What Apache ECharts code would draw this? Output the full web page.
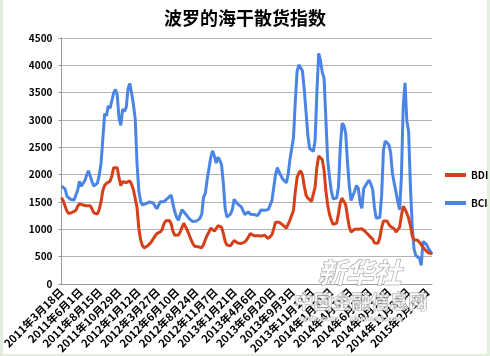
<!DOCTYPE html>
<html><head><meta charset="utf-8">
<script src="https://cdn.jsdelivr.net/npm/echarts@6/dist/echarts.min.js"></script>
<style>
html,body{margin:0;padding:0;background:#e1f0dd;}
#bg{position:absolute;left:3px;top:0;width:484px;height:354px;background:#fff;}
#chart{position:absolute;left:0;top:0;width:490px;height:356px;}
</style></head><body>
<div id="bg"></div><div id="chart"></div>
<script>
// weekly samples starting 2011-03-18
const stepDays = 7;
const tickStep = 75;
const tickLabels = ['2011年3月18日','2011年6月1日','2011年8月15日','2011年10月29日','2012年1月12日','2012年3月27日','2012年6月10日','2012年8月24日','2012年11月7日','2013年1月21日','2013年4月6日','2013年6月20日','2013年9月3日','2013年11月17日','2014年1月31日','2014年4月16日','2014年6月30日','2014年9月13日','2014年11月27日','2015年2月10日'];
const yTicks = [0,500,1000,1500,2000,2500,3000,3500,4000,4500];
const bdi = [1580,1515,1425,1335,1285,1265,1310,1310,1345,1420,
1465,1460,1445,1430,1430,1430,1430,1370,1300,1280,
1280,1365,1505,1710,1800,1840,1850,1880,1970,2125,
2160,2125,1940,1800,1870,1835,1855,1870,1885,1820,
1725,1700,1400,1020,810,700,660,690,700,725,
770,825,875,920,930,955,1000,1100,1155,1160,
1160,1100,960,890,865,895,950,1035,1110,1110,
980,895,815,740,690,690,680,665,660,720,
810,890,950,1020,1015,965,985,1065,1095,1040,
920,780,710,690,700,735,795,800,750,740,
740,750,770,810,860,925,900,880,873,880,
880,875,877,890,860,830,830,900,1005,1130,
1165,1130,1100,1080,1055,1020,1030,1165,1175,1350,
1685,1950,2030,2070,1990,1790,1620,1570,1560,1510,
1520,1770,2135,2340,2305,2275,2075,1705,1445,1275,
1170,1090,1080,1115,1285,1490,1570,1580,1450,1240,
1040,950,945,1000,1020,1000,1000,1010,980,955,
925,885,855,820,750,745,745,850,1030,1150,
1165,1150,1090,1050,1040,1010,950,950,1040,1250,
1420,1370,1295,1200,1065,880,810,800,800,760,
720,670,630,600,570,545,555];
const bci = [1790,1790,1740,1605,1575,1550,1550,1535,1540,1715,
1880,1790,1790,1890,1990,2070,2040,1870,1790,1790,
1845,1990,2210,2650,3115,3075,3260,3210,3230,3490,
3560,3455,3030,2900,3200,3155,3230,3570,3670,3490,
3285,3020,2210,1700,1510,1445,1450,1470,1485,1500,
1515,1480,1425,1375,1440,1505,1540,1505,1535,1565,
1590,1625,1460,1320,1220,1165,1185,1360,1370,1280,
1240,1195,1170,1140,1110,1150,1175,1200,1280,1590,
1660,1910,1940,2315,2435,2340,2210,2320,2265,2180,
1840,1380,1220,1245,1280,1360,1550,1500,1460,1450,
1410,1335,1270,1280,1320,1275,1275,1270,1235,1250,
1300,1355,1380,1350,1350,1360,1350,1525,1760,1995,
2130,2045,2070,1920,1895,1850,2000,2270,2255,2680,
3340,3890,4010,3990,3895,3550,3135,2710,2475,2465,
2425,2620,3500,4220,4090,3870,3760,3010,2270,1960,
1710,1560,1540,1570,1780,2490,2940,2900,2760,2240,
1800,1525,1550,1700,1800,1755,1495,1385,1740,1800,
1790,1900,1830,1730,1400,1200,1180,1220,1620,2440,
2615,2620,2550,2400,2020,1845,1680,1500,1360,1970,
3260,3680,2990,2780,1790,1050,640,520,510,470,
340,780,810,720,650,600,540];

const FONT = "'Noto Sans CJK SC', 'Liberation Sans', sans-serif";
const chart = echarts.init(document.getElementById('chart'), null, {renderer: 'canvas'});
const toPts = arr => arr.map((v, i) => [i * stepDays, v]);
chart.setOption({
  backgroundColor: 'transparent',
  animation: false,
  title: {
    text: '波罗的海干散货指数', left: 'center', top: 4,
    textStyle: {fontFamily: FONT, fontSize: 18, fontWeight: 'bold', color: '#000'}
  },
  legend: {
    orient: 'vertical', left: 445, top: 169, itemGap: 16, padding: 0,
    icon: 'rect', itemWidth: 21, itemHeight: 4,
    data: ['BDI', 'BCI'],
    textStyle: {fontFamily: FONT, fontSize: 10, fontWeight: 'bold', color: '#000', lineHeight: 12}
  },
  grid: {left: 53, right: 58, top: 38, bottom: 68, containLabel: false},
  xAxis: {
    type: 'value', min: 0, max: (bdi.length - 1) * stepDays, interval: tickStep,
    axisLine: {show: true, lineStyle: {color: '#9a9a9a', width: 1}},
    axisTick: {show: false},
    splitLine: {show: false},
    axisLabel: {
      rotate: 45, margin: 6, fontFamily: FONT, fontSize: 11, fontWeight: 'bold', color: '#000',
      showMaxLabel: false,
      formatter: v => (v % tickStep === 0 && tickLabels[v / tickStep]) ? tickLabels[v / tickStep] : ''
    }
  },
  yAxis: {
    type: 'value', min: yTicks[0], max: yTicks[yTicks.length - 1], interval: 500,
    axisLine: {show: true, lineStyle: {color: '#9a9a9a', width: 1}},
    axisTick: {show: true, length: 3, lineStyle: {color: '#9a9a9a'}},
    splitLine: {show: true, lineStyle: {color: '#b4b4b4', width: 1}},
    axisLabel: {margin: 9, fontFamily: FONT, fontSize: 10, fontWeight: 'bold', color: '#000',
      formatter: v => String(v)}
  },
  series: [
    {name: 'BDI', type: 'line', data: toPts(bdi), showSymbol: false, symbol: 'none',
     lineStyle: {color: '#d5401a', width: 3}, itemStyle: {color: '#d5401a'}, z: 3},
    {name: 'BCI', type: 'line', data: toPts(bci), showSymbol: false, symbol: 'none',
     lineStyle: {color: '#4a85e6', width: 3}, itemStyle: {color: '#4a85e6'}, z: 2}
  ],
  graphic: [
    {type: 'text', left: 317, top: 258, z: 100, silent: true,
     style: {text: '新华社', font: "italic bold 28px 'Noto Sans CJK SC'", fill: 'rgba(255,255,255,0.85)', stroke: '#9a9a9a', lineWidth: 1}},
    {type: 'text', left: 294, top: 292, z: 100, silent: true,
     style: {text: '中国金融信息网', font: "bold 19px 'Noto Sans CJK SC'", fill: 'rgba(255,255,255,0.7)', stroke: '#a0a0a0', lineWidth: 1}},
    {type: 'text', left: 300, top: 314, z: 100, silent: true,
     style: {text: 'cnfin.com     xinhua08.com', font: "bold 8px 'Liberation Sans'", fill: 'rgba(255,255,255,0.7)', stroke: '#a8a8a8', lineWidth: 0.6}}
  ]
});
</script>
</body></html>
